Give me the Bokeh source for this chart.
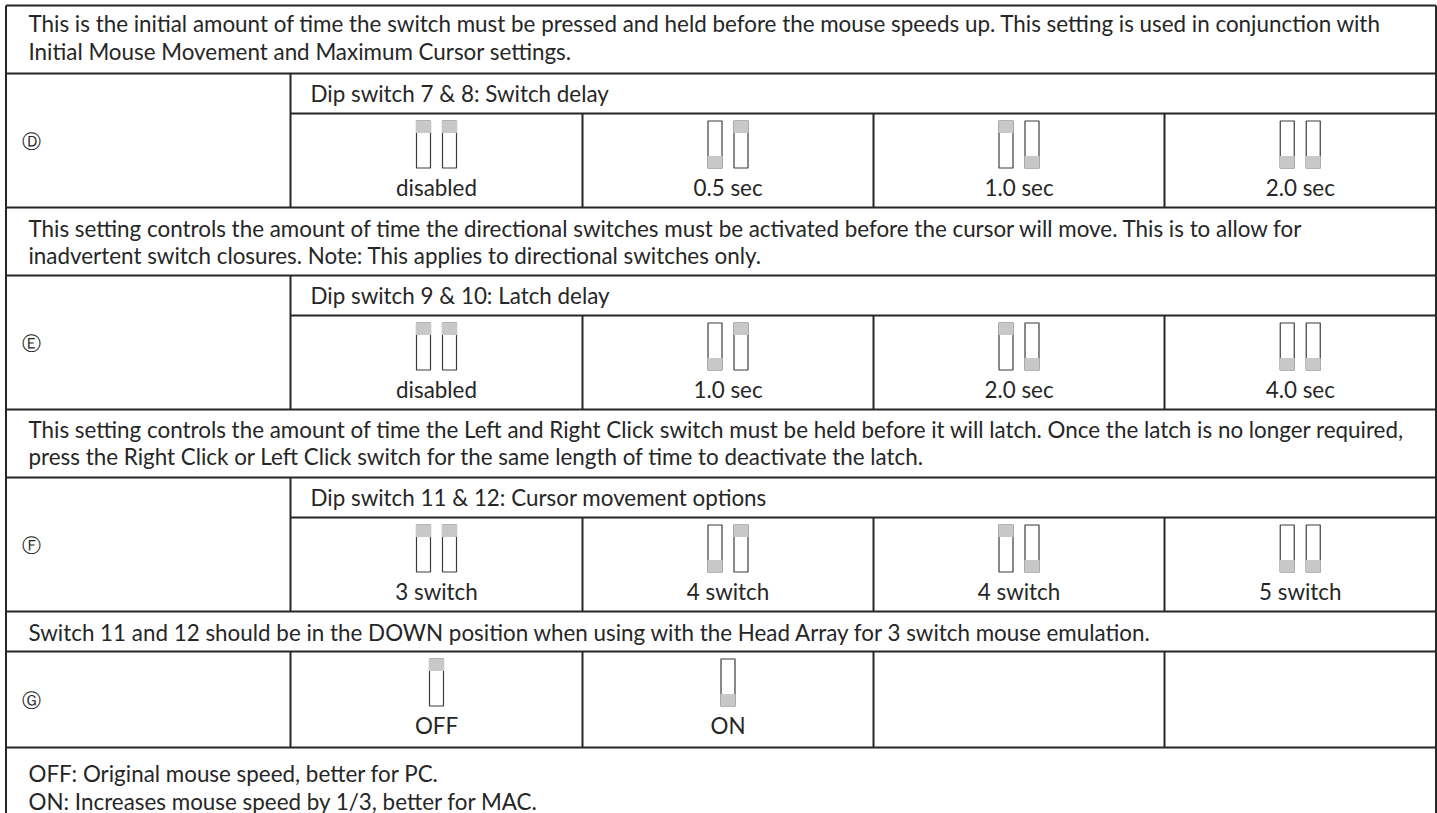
from bokeh.plotting import figure
from bokeh.models import Range1d, ColumnDataSource
from bokeh.embed import file_html
from bokeh.resources import INLINE
from bokeh.core.properties import value

# ---------------- data ----------------
note_rows = [
    ["This is the initial amount of time the switch must be pressed and held before the mouse speeds up. This setting is used in conjunction with",
     "Initial Mouse Movement and Maximum Cursor settings."],
    ["This setting controls the amount of time the directional switches must be activated before the cursor will move. This is to allow for",
     "inadvertent switch closures. Note: This applies to directional switches only."],
    ["This setting controls the amount of time the Left and Right Click switch must be held before it will latch. Once the latch is no longer required,",
     "press the Right Click or Left Click switch for the same length of time to deactivate the latch."],
    ["Switch 11 and 12 should be in the DOWN position when using with the Head Array for 3 switch mouse emulation."],
    ["OFF: Original mouse speed, better for PC.",
     "ON: Increases mouse speed by 1/3, better for MAC."],
]
block_letters = ["\u24b9", "\u24ba", "\u24bb", "\u24bc"]
block_headers = ["Dip switch 7 & 8: Switch delay",
                 "Dip switch 9 & 10: Latch delay",
                 "Dip switch 11 & 12: Cursor movement options",
                 None]
option_labels = [
    ["disabled", "0.5 sec", "1.0 sec", "2.0 sec"],
    ["disabled", "1.0 sec", "2.0 sec", "4.0 sec"],
    ["3 switch", "4 switch", "4 switch", "5 switch"],
    ["OFF", "ON", "", ""],
]
# 1 = lever up (grey at top), 0 = lever down (grey at bottom)
switch_states = [
    [[1, 1], [0, 1], [1, 0], [0, 0]],
    [[1, 1], [0, 1], [1, 0], [0, 0]],
    [[1, 1], [0, 1], [1, 0], [0, 0]],
    [[1], [0], [], []],
]

# ---------------- layout (page pixels) ----------------
W, H = 1437, 813
LEFT, RIGHT, TOP = 5.5, 1435.5, 5
COL_X = [290, 582, 873, 1164, RIGHT]
PAD_X = 28
LINE_H = 27.5
NOTE_FIRST = [18, 20.5, 19.5, 20.5, 26]
FONT = "Lato"
FS = "22.4px"
TXT = "#262626"
LINE = "#262626"

p = figure(width=W, height=H, x_range=Range1d(0, W), y_range=Range1d(H, 0),
           output_backend="svg", toolbar_location=None, min_border=0)
p.axis.visible = False
p.grid.visible = False
p.outline_line_color = None
p.background_fill_color = "white"
p.border_fill_color = "white"

hx0, hx1, hy = [], [], []
vx, vy0, vy1 = [], [], []
lt_x, lt_y, lt_t = [], [], []
ct_x, ct_y, ct_t = [], [], []
lx, ly, lt = [], [], []
sw_l, sw_r, sw_t, sw_b = [], [], [], []
g_l, g_r, g_t, g_b = [], [], [], []

SW_W, SW_H, GREY_H, SW_GAP = 14, 47, 12, 26

y = TOP
hx0.append(LEFT); hx1.append(RIGHT); hy.append(TOP)


def add_note(ni, y):
    lines = note_rows[ni]
    h = 12 + 28 * len(lines)
    for i, s in enumerate(lines):
        lt_x.append(PAD_X); lt_y.append(y + NOTE_FIRST[ni] + i * LINE_H); lt_t.append(s)
    return y + h


for bi in range(4):
    y = add_note(bi, y)
    hx0.append(LEFT); hx1.append(RIGHT); hy.append(y)
    top = y
    if block_headers[bi] is not None:
        lt_x.append(COL_X[0] + 20); lt_y.append(y + 19.5); lt_t.append(block_headers[bi])
        y += 40
        hx0.append(COL_X[0]); hx1.append(RIGHT); hy.append(y)
        row_h = 94
    else:
        row_h = 96
    row_top = y
    bottom = y + row_h
    vx.append(COL_X[0]); vy0.append(top); vy1.append(bottom)
    for cx in COL_X[1:4]:
        vx.append(cx); vy0.append(row_top); vy1.append(bottom)
    lx.append(31); ly.append((top + bottom) / 2); lt.append(block_letters[bi])
    for ci in range(4):
        cxm = (COL_X[ci] + COL_X[ci + 1]) / 2
        states = switch_states[bi][ci]
        n = len(states)
        for k, st in enumerate(states):
            sx = cxm + (k - (n - 1) / 2) * SW_GAP
            st_top = row_top + 7.5
            sw_l.append(sx - SW_W / 2); sw_r.append(sx + SW_W / 2)
            sw_t.append(st_top); sw_b.append(st_top + SW_H)
            g_l.append(sx - SW_W / 2 - 0.5); g_r.append(sx + SW_W / 2 + 0.5)
            if st == 1:
                g_t.append(st_top - 0.5); g_b.append(st_top + GREY_H)
            else:
                g_t.append(st_top + SW_H - GREY_H); g_b.append(st_top + SW_H + 0.5)
        if option_labels[bi][ci]:
            ct_x.append(cxm); ct_y.append(row_top + 73.5); ct_t.append(option_labels[bi][ci])
    y = bottom
    hx0.append(LEFT); hx1.append(RIGHT); hy.append(y)

y = add_note(4, y)

# outer verticals (table continues below the visible area)
vx += [LEFT, RIGHT]; vy0 += [TOP, TOP]; vy1 += [H, H]

p.segment(x0=hx0, x1=hx1, y0=hy, y1=hy, line_color=LINE, line_width=2)
p.segment(x0=vx, x1=vx, y0=vy0, y1=vy1, line_color=LINE, line_width=2)

p.quad(left=sw_l, right=sw_r, top=sw_t, bottom=sw_b, fill_color="white",
       line_color="#3c3c3c", line_width=1.2)
p.quad(left=g_l, right=g_r, top=g_t, bottom=g_b, fill_color="#c8c8c8", line_color=None)

src_l = ColumnDataSource(dict(x=lt_x, y=lt_y, t=lt_t))
src_c = ColumnDataSource(dict(x=ct_x, y=ct_y, t=ct_t))
p.text(x="x", y="y", text="t", source=src_l, text_font=value(FONT), text_font_size=FS,
       text_color=TXT, text_baseline="middle", text_align="left")
p.text(x="x", y="y", text="t", source=src_c, text_font=value(FONT), text_font_size=FS,
       text_color=TXT, text_baseline="middle", text_align="center")
p.text(x=lx, y=ly, text=lt, text_font=value("DejaVu Sans"), text_font_size="19px",
       text_color=TXT, text_baseline="middle", text_align="center")

open("out.html", "w").write(file_html(p, INLINE))
